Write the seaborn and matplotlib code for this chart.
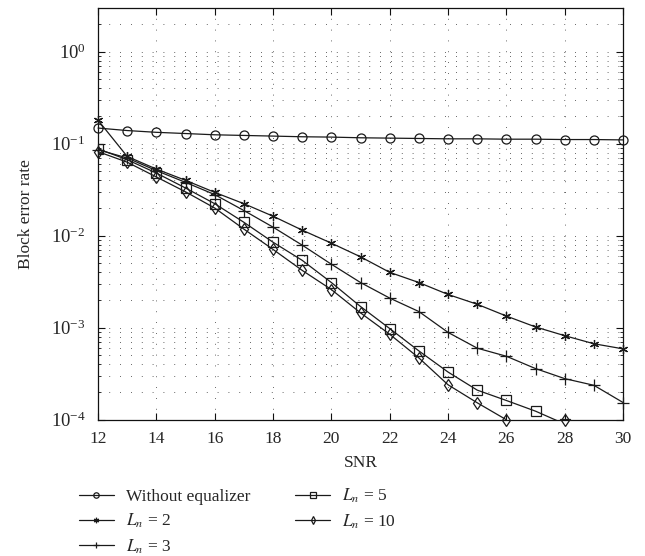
"""
Block error rate vs SNR for different equalizer lengths (semilog plot, MATLAB look).
"""
import numpy as np
import matplotlib
matplotlib.use("Agg")
import matplotlib.pyplot as plt
from matplotlib.ticker import LogLocator, NullFormatter, FixedLocator
import seaborn as sns

# data
snr = [12, 13, 14, 15, 16, 17, 18, 19, 20, 21, 22, 23, 24, 25, 26, 27, 28, 29, 30]
ber_no_eq = [0.148, 0.139, 0.133, 0.129, 0.125, 0.123, 0.121, 0.119, 0.118, 0.116,
             0.115, 0.114, 0.113, 0.113, 0.112, 0.112, 0.111, 0.111, 0.110]
ber_ln2 = [0.18, 0.0727, 0.053, 0.040, 0.0296, 0.0223, 0.0163, 0.0115, 0.0083, 0.0059,
           0.0040, 0.0031, 0.0023, 0.0018, 0.00134, 0.00102, 0.00082, 0.00067, 0.00059]
ber_ln3 = [0.086, 0.070, 0.051, 0.038, 0.028, 0.0188, 0.0124, 0.0079, 0.0049, 0.0031,
           0.0021, 0.0015, 0.00089, 0.0006, 0.00049, 0.00036, 0.00028, 0.000237, 0.000154]
ber_ln5 = [0.088, 0.067, 0.048, 0.033, 0.0223, 0.014, 0.0085, 0.0054, 0.0031, 0.0017,
           0.00098, 0.00056, 0.00033, 0.00021, 0.000162, 0.000124, 0.00009, np.nan, np.nan]
ber_ln10 = [0.082, 0.063, 0.0435, 0.030, 0.020, 0.0118, 0.0071, 0.0042, 0.0026, 0.00145,
            0.00085, 0.00047, 0.00024, 0.000153, 0.0001, np.nan, 0.0001, np.nan, np.nan]

labels = ["Without equalizer", r"$L_n$ = 2", r"$L_n$ = 3", r"$L_n$ = 5", r"$L_n$ = 10"]
series = [ber_no_eq, ber_ln2, ber_ln3, ber_ln5, ber_ln10]
markers = ["o", (6, 2, 0), "+", "s", "d"]
clip = [False, False, False, True, False]

sns.set_style("ticks")
plt.rcParams["font.family"] = ["Liberation Serif", "DejaVu Serif"]
plt.rcParams["mathtext.fontset"] = "stix"
FS = 12.5
plt.rcParams["font.size"] = FS

LINE_COLOR = "#1a1a1a"

fig = plt.figure(figsize=(6.45, 5.56), dpi=100)
ax = fig.add_axes([0.152, 0.245, 0.814, 0.741])

x_arr = np.array(snr, dtype=float)
handles = []
for vals, lab, mk, cl in zip(series, labels, markers, clip):
    y_arr = np.array(vals, dtype=float)
    ok = ~np.isnan(y_arr)
    # split into contiguous runs so missing points leave gaps
    runs = []
    start = None
    for i, flag in enumerate(ok):
        if flag and start is None:
            start = i
        if not flag and start is not None:
            runs.append((start, i))
            start = None
    if start is not None:
        runs.append((start, len(ok)))
    for a, b in runs:
        sns.lineplot(
            x=x_arr[a:b], y=y_arr[a:b], ax=ax,
            color=LINE_COLOR, lw=0.9,
            marker=mk, markersize=6.5 if mk != "+" else 8,
            markerfacecolor="none", markeredgecolor=LINE_COLOR, markeredgewidth=0.9,
            clip_on=cl, legend=False, zorder=3,
        )
    handles.append(ax.lines[-1])

ax.set_yscale("log")
ax.set_xlim(12, 30)
ax.set_ylim(1e-4, 3)
ax.xaxis.set_major_locator(FixedLocator(range(12, 31, 2)))
ax.yaxis.set_major_locator(LogLocator(base=10, numticks=10))
ax.yaxis.set_minor_locator(LogLocator(base=10, subs=np.arange(2, 10), numticks=20))
ax.yaxis.set_minor_formatter(NullFormatter())

# MATLAB-style dotted grid
grid_style = dict(color="#333333", linestyle=(0, (1, 12)), linewidth=0.6)
ax.grid(True, which="major", axis="both", **grid_style)
ax.grid(True, which="minor", axis="y", **grid_style)

for side in ["top", "right", "left", "bottom"]:
    ax.spines[side].set_visible(True)
    ax.spines[side].set_linewidth(0.9)
    ax.spines[side].set_color("#111111")
ax.tick_params(which="both", direction="in", top=True, right=True, labelsize=FS, color="#111111")
ax.tick_params(which="major", length=5, width=0.8)
ax.tick_params(which="minor", length=2.5, width=0.6)
ax.tick_params(axis="x", which="major", pad=8)
ax.tick_params(axis="y", which="major", pad=9, labelsize=13.5)

ax.set_xlabel("SNR", fontsize=FS, labelpad=6)
ax.set_ylabel("Block error rate", fontsize=FS, labelpad=12)

fig.legend(
    handles, labels, loc="upper left",
    bbox_to_anchor=(79 / 645, 1 - 487 / 556), bbox_transform=fig.transFigure,
    ncol=2, frameon=False, fontsize=FS, handlelength=2.0, handletextpad=0.7,
    columnspacing=2.6, labelspacing=0.4, markerscale=0.6, borderpad=0, borderaxespad=0,
)

fig.savefig("out.png", dpi=100)
